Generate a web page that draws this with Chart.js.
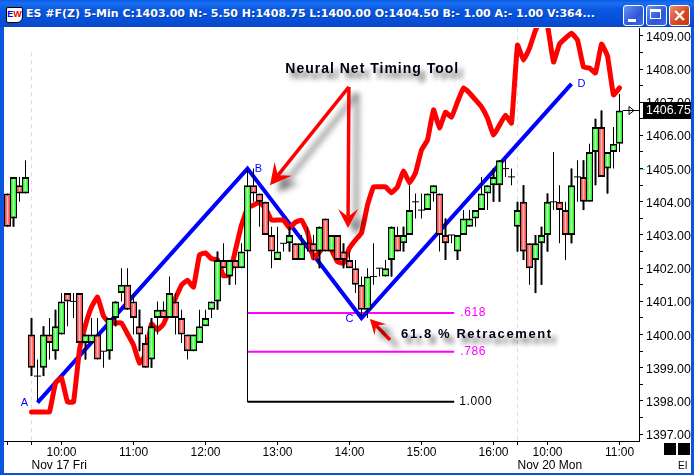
<!DOCTYPE html>
<html><head><meta charset="utf-8">
<script src="https://cdn.jsdelivr.net/npm/chart.js@4"></script>
<style>
html,body{margin:0;padding:0;background:#fff;overflow:hidden}
#win{position:absolute;left:0;top:0;width:694px;height:475px;background:#0a55dd;overflow:hidden}
#bar{position:absolute;left:0;top:0;width:694px;height:27px;background:linear-gradient(#0a5ce8 0,#1a6ff0 12%,#0a58e0 35%,#0550d8 75%,#0a47c8 100%)}
#ttl{position:absolute;left:26px;top:7px;color:#fff;font:bold 11px "DejaVu Sans";white-space:pre;letter-spacing:0;text-shadow:1px 1px 0 #0a3aa0}
#ico{position:absolute;left:6px;top:7px;width:15px;height:14px;background:#fff;border:1px solid #000;border-radius:2px 2px 6px 2px;font:bold 9px "Liberation Sans";line-height:13px;white-space:pre;overflow:hidden;text-align:center}
#ico b{color:#00e}#ico i{color:#e00;font-style:normal}
.btn{position:absolute;top:5px;width:19px;height:19px;border:1px solid #fff;border-radius:3px;background:linear-gradient(135deg,#6f93ee,#2b58d8 60%,#3b6ae4)}
#b3{background:linear-gradient(135deg,#ee8f70,#d2451f 60%,#c33a15)}
#b1 div{position:absolute;left:4px;bottom:3px;width:8px;height:3px;background:#fff}
#b2 div{position:absolute;left:3px;top:3px;width:11px;height:10px;border:1px solid #fff;border-top:3px solid #fff;box-sizing:border-box}
#b3 span{position:absolute;left:0;top:-1px;width:19px;text-align:center;color:#fff;font:bold 17px "DejaVu Sans";line-height:20px}
#wrap{position:absolute;left:4px;top:27px;width:687px;height:446px;background:#fff}
canvas{display:block}
</style></head>
<body>
<div id="win">
<div id="bar">
<div id="ico"><b>E</b><i>W</i></div>
<div id="ttl">ES #F(Z) 5-Min C:1403.00 N:- 5.50 H:1408.75 L:1400.00 O:1404.50 B:- 1.00 A:- 1.00 V:364...</div>
<div class="btn" id="b1" style="left:623px"><div></div></div>
<div class="btn" id="b2" style="left:646px"><div></div></div>
<div class="btn" id="b3" style="left:669px"><span>×</span></div>
</div>
<div id="wrap"><canvas id="c" width="687" height="446"></canvas></div>
</div>
<script>
const opens=[1404.25,1403.5,1404.5,1404.25,1400,1398.75,1399,1400,1399.5,1400,1401.25,1401,1401.25,1399.75,1399.75,1400,1399.5,1399.5,1400.5,1401.25,1401.5,1401,1400.25,1399.75,1399.25,1400.5,1400.75,1400.5,1401,1400.5,1400,1399.5,1399.75,1400.25,1400.75,1401,1402.25,1401.75,1402.25,1402,1402.5,1404.5,1404.25,1404,1403,1402.25,1402.75,1402.75,1402.75,1402.25,1402.75,1402.75,1402.5,1403.5,1402.5,1403,1402.5,1402.25,1402,1401.5,1400.75,1401.75,1402,1401.75,1402.25,1403,1402.75,1403,1404,1403.75,1403.75,1404.25,1404.25,1403,1403,1402.5,1403,1403.25,1403.5,1403.75,1404.25,1404.5,1404.5,1405,1404.75,1403.25,1404,1402.75,1402.25,1402.75,1403,1404,1404,1403.75,1403,1404.75,1404.75,1404,1405.5,1406.25,1405,1405.5,1405.75];
const highs=[1404.25,1404.75,1404.75,1405.25,1400.5,1399.25,1400.25,1400.5,1400.75,1401.25,1401.25,1401.25,1401.25,1400,1400.5,1400.5,1399.5,1400.5,1401,1402,1402,1401.25,1400.75,1400,1400.5,1401,1401,1401.75,1401.25,1400.75,1400,1400,1400.75,1400.75,1401,1402.5,1402.75,1402.25,1402.25,1402.75,1405,1405,1404.25,1404,1403.25,1403.25,1402.75,1403.25,1402.75,1403,1403.25,1403,1403.25,1403.5,1403,1403,1402.75,1402.5,1402.25,1401.75,1402,1402.75,1402,1402.25,1403.25,1403.25,1403.25,1404.5,1404.25,1404.25,1404.25,1404.5,1404.25,1403.5,1403,1403,1403.75,1403.75,1403.75,1404.75,1404.5,1405,1405.25,1405.25,1405,1404,1404.5,1402.75,1403,1403.25,1404.25,1405.5,1404.5,1404,1405,1405.25,1405.25,1405.75,1406.5,1406.75,1405.5,1406.25,1407.25];
const lows=[1403.25,1403.25,1404,1404.25,1398.75,1398,1398.75,1399.25,1399.25,1400,1400.25,1400.5,1399.75,1399.25,1399.75,1399.25,1399,1399.25,1400.25,1401,1400.75,1400,1399.5,1399,1399,1400,1400.5,1400.5,1400,1399.75,1399.25,1399.5,1399.75,1400.25,1400.5,1400.75,1402,1401.5,1401.5,1402,1402.25,1404,1403.25,1403,1402,1402.25,1402.5,1402.5,1402.25,1402.25,1402.5,1402.25,1402,1402.5,1402.5,1402.25,1402,1402,1401.25,1400.5,1400.5,1401.5,1401.75,1401.75,1401.75,1402.5,1402.5,1403,1403.5,1403.5,1403.75,1404,1402.5,1402.25,1402.75,1402.25,1403,1403.25,1403.25,1403.75,1403.75,1404,1404,1404.75,1404.5,1402.5,1402.25,1401.5,1401.25,1401.5,1402.5,1403.75,1402.75,1402.25,1402.75,1404,1403.75,1404,1404.5,1404.75,1404.25,1405,1405.5];
const closes=[1403.25,1404.75,1404.25,1404.75,1399,1398.75,1400,1399.75,1400.25,1401,1401,1401,1399.75,1400,1400,1399.25,1399.5,1400.5,1401,1401.5,1400.75,1400.5,1400,1399,1400.25,1400.75,1400.5,1401.25,1400.5,1400,1399.5,1400,1400.25,1400.5,1401,1402.25,1402,1402.25,1402,1402.5,1404.5,1404.25,1404,1403,1402.5,1402.5,1402.75,1403,1402.25,1402.75,1402.75,1402.5,1403.25,1402.5,1403,1402.25,1402.25,1402,1401.5,1400.75,1401.75,1401.75,1402,1402,1403.25,1402.5,1403,1403.75,1404,1403.75,1404.25,1404.5,1403,1402.75,1403,1403,1403.5,1403.5,1403.75,1404.25,1404.5,1404.75,1405.25,1405,1404.75,1403.75,1402.5,1402,1402.75,1403,1404,1404,1403.75,1403,1404.5,1404.75,1404,1405.5,1406.25,1404.75,1405.5,1405.75,1406.75];
const thickWickBars=[1,4,6,8,13,17,18,22,24,35,37,47,52,56,64,66,73,75,81,82,85,86,88,89,90,94,96,98,99,100];
const timingToolStart=4;
const timingTool=[1397.67,1397.67,1397.67,1397.67,1398.54,1398.69,1397.97,1397.97,1399.54,1400.29,1400.83,1401.13,1400.56,1400.35,1400.35,1400.35,1400.02,1399.69,1399.14,1399.39,1400.32,1400.14,1400.32,1400.74,1401.10,1401.49,1401.64,1401.43,1402.40,1402.46,1402.28,1402.25,1401.77,1401.80,1402.55,1403.30,1403.81,1403.90,1403.99,1403.81,1403.45,1403.45,1403.45,1403.21,1403.39,1403.45,1403.09,1402.31,1402.49,1402.70,1402.55,1402.19,1402.16,1402.61,1402.85,1403.06,1403.90,1404.45,1404.45,1404.45,1404.27,1404.45,1404.93,1404.57,1404.87,1405.56,1405.86,1406.77,1406.22,1406.70,1406.55,1407.01,1407.43,1407.28,1407.07,1406.86,1406.52,1406.01,1406.31,1406.61,1406.37,1408.72,1408.27,1408.63,1409.17,1409.48,1409.30,1408.21,1408.75,1408.93,1409.08,1408.87,1408.06,1408.03,1407.88,1408.75,1408.39,1407.22,1407.43];
const zigzagBars=[5,40,59,94];
const zigzagPrices=[1397.95,1405,1400.5,1407.55];
const zigzagNames=["A","B","C","D"];
const fibStartBar=40, fibEndBar=74.45;
const fibLevels=[1400.65,1399.48,1397.98];
const fibNames=[".618",".786","1.000"];
const yTicks=[1397,1397.5,1398,1398.5,1399,1399.5,1400,1400.5,1401,1401.5,1402,1402.5,1403,1403.5,1404,1404.5,1405,1405.5,1406,1406.5,1407,1407.5,1408,1408.5,1409];
const xTickBars=[0,4,9,21,33,45,57,69,81,85,90,102];
const xTickNames=["","","10:00","11:00","12:00","13:00","14:00","15:00","16:00","","10:00","11:00"];
const dayBars=[4,85];
const dayNames=["Nov 17 Fri","Nov 20 Mon"];
const lastPrice=1406.75;
const cyanAxisPrice=1405;
const sessionBreaks=[[4,1408.5],[85,1409.23]];
const yMin=1396.795,yMax=1409.235,xMin=-7/12,xMax=-7/12+635/6;

const barsIdx=opens.map((_,i)=>i);
const bodies=barsIdx.filter(i=>opens[i]!==closes[i]).map(i=>({x:i,y:[opens[i],closes[i]]}));
const dojis=barsIdx.filter(i=>opens[i]===closes[i]).map(i=>({x:i,y:opens[i]}));
const wicks=barsIdx.map(i=>({x:i,y:[lows[i],highs[i]]}));
const thickWicks=thickWickBars.map(i=>({x:i,y:[lows[i],highs[i]]}));
const noPad=s=>{s.paddingLeft=s.paddingRight=s.paddingTop=s.paddingBottom=0;};

const lineBase={type:'line',pointRadius:0,fill:false,tension:0,borderJoinStyle:'round',borderCapStyle:'round'};
const datasets=[];
sessionBreaks.forEach(([b,p])=>datasets.push({...lineBase,label:'session',order:20,data:[{x:b,y:p},{x:b,y:yMin}],borderColor:'#dcdcdc',borderWidth:1,borderDash:[4,4],borderCapStyle:'butt'}));
datasets.push({...lineBase,label:'fib stem',order:14,data:[{x:fibStartBar,y:zigzagPrices[1]},{x:fibStartBar,y:fibLevels[2]}],borderColor:'#000',borderWidth:1,borderCapStyle:'butt'});
fibLevels.forEach((p,k)=>datasets.push({...lineBase,label:'fib '+fibNames[k],order:14,data:[{x:fibStartBar,y:p},{x:fibEndBar,y:p}],borderColor:k<2?'#ff00ff':'#000',borderWidth:2,borderCapStyle:'butt'}));
datasets.push({...lineBase,label:'zigzag',order:12,data:zigzagBars.map((b,i)=>({x:b,y:zigzagPrices[i]})),borderColor:'#0000ff',borderWidth:4,borderJoinStyle:'miter',borderCapStyle:'butt'});
datasets.push({...lineBase,label:'Neural Net',order:10,tension:0.1,data:timingTool.map((p,i)=>({x:i+timingToolStart,y:p})),borderColor:'#ff0000',borderWidth:5});
datasets.push({label:'wick',type:'bar',order:8,data:wicks,backgroundColor:'#000',barThickness:1,grouped:false,inflateAmount:0,borderWidth:0});
datasets.push({label:'wick2',type:'bar',order:7,data:thickWicks,backgroundColor:'#000',barThickness:2,grouped:false,inflateAmount:0,borderWidth:0});
datasets.push({label:'body',type:'bar',order:5,data:bodies,barThickness:7,grouped:false,inflateAmount:0,borderColor:'#000',borderSkipped:false,borderWidth:{left:1,right:1,top:2,bottom:2},
 backgroundColor(c){
  if(c.type!=='data'||!c.raw)return '#fff';
  const up=c.raw.y[1]>c.raw.y[0];
  const px=c.chart.scales.x.getPixelForValue(c.raw.x);
  if(!Number.isFinite(px))return up?'#00e800':'#f03030';
  const g=c.chart.ctx.createLinearGradient(px-3,0,px+3,0);
  if(up){g.addColorStop(0,'#00e800');g.addColorStop(.3,'#50ff50');g.addColorStop(.5,'#b8ffb8');g.addColorStop(.7,'#50ff50');g.addColorStop(1,'#00e800');}
  else{g.addColorStop(0,'#f03030');g.addColorStop(.3,'#ff6a6a');g.addColorStop(.5,'#ffb8b8');g.addColorStop(.7,'#ff6a6a');g.addColorStop(1,'#f03030');}
  return g;
 }});
datasets.push({label:'doji',type:'scatter',order:4,data:dojis,showLine:false,pointStyle:'line',pointRadius:3.5,borderColor:'#000',borderWidth:1,pointBorderWidth:1,pointBorderColor:'#000'});

const arrows=[
 {from:[56.9,1407.46],to:[43.75,1404.5],len:21,half:11,w:3.5},
 {from:[56.9,1407.46],to:[56.75,1403.21],len:19,half:10,w:3.5},
 {from:[63.75,1399.84],to:[60.4,1400.47],len:15,half:8,w:3.5}
];
const notes=[
 {text:"Neural Net Timing Tool",bar:46.3,price:1408.0,font:'bold 14px "Liberation Sans"',sp:'1px'},
 {text:"61.8 % Retracement",bar:65.6,price:1400,font:'bold 13px "Liberation Sans"',sp:'1.6px'}
];

const drawings={id:'drawings',afterDatasetsDraw(chart){
 const {ctx,scales:{x,y},chartArea:a}=chart;
 const X=v=>x.getPixelForValue(v),Y=v=>y.getPixelForValue(v);
 ctx.save();
 arrows.forEach(ar=>{
  const fx=X(ar.from[0]),fy=Y(ar.from[1]),tx=X(ar.to[0]),ty=Y(ar.to[1]);
  const an=Math.atan2(ty-fy,tx-fx),ux=Math.cos(an),uy=Math.sin(an),nx=-uy,ny=ux;
  ctx.save();
  ctx.shadowColor='rgba(0,0,0,.55)';ctx.shadowOffsetX=8;ctx.shadowOffsetY=7;ctx.shadowBlur=6;
  ctx.fillStyle='#ff0000';ctx.strokeStyle='#ff0000';ctx.lineWidth=ar.w;
  ctx.beginPath();ctx.moveTo(fx,fy);ctx.lineTo(tx-ux*ar.len*.6,ty-uy*ar.len*.6);ctx.stroke();
  ctx.beginPath();ctx.moveTo(tx,ty);
  ctx.lineTo(tx-ux*ar.len+nx*ar.half,ty-uy*ar.len+ny*ar.half);
  ctx.lineTo(tx-ux*ar.len*.6,ty-uy*ar.len*.6);
  ctx.lineTo(tx-ux*ar.len-nx*ar.half,ty-uy*ar.len-ny*ar.half);
  ctx.closePath();ctx.fill();
  ctx.restore();
 });
 notes.forEach(n=>{
  ctx.save();
  ctx.font=n.font;ctx.letterSpacing=n.sp;ctx.textBaseline='middle';ctx.textAlign='left';
  ctx.shadowColor='rgba(0,0,0,.6)';ctx.shadowOffsetX=5;ctx.shadowOffsetY=6;ctx.shadowBlur=5;
  ctx.fillStyle='#000015';
  ctx.fillText(n.text,X(n.bar),Y(n.price));
  ctx.restore();
 });
 ctx.font='11px "Liberation Sans"';ctx.textBaseline='middle';ctx.textAlign='center';ctx.fillStyle='#0000ff';
 const off=[[-13,0],[11,0],[-12,1],[10,0]];
 zigzagNames.forEach((t,i)=>ctx.fillText(t,X(zigzagBars[i])+off[i][0],Y(zigzagPrices[i])+off[i][1]));
 ctx.font='12px "Liberation Sans"';ctx.letterSpacing='0.6px';ctx.textAlign='left';
 fibNames.forEach((t,k)=>{ctx.fillStyle=k<2?'#ff00ff':'#000';ctx.fillText(t,X(fibEndBar)+(k<2?6:5),Y(fibLevels[k]));});
 ctx.letterSpacing='0px';
 const ly=Math.round(Y(lastPrice))-.5,r=a.right;
 ctx.strokeStyle='#000';ctx.lineWidth=1;
 ctx.beginPath();ctx.moveTo(r-16,ly);ctx.lineTo(r,ly);ctx.moveTo(r-10,ly-4);ctx.lineTo(r-5,ly);ctx.lineTo(r-10,ly+4);ctx.closePath();ctx.stroke();
 ctx.fillStyle='#000';ctx.fillRect(r+4,ly-8.5,chart.width-r-4,17);
 ctx.fillStyle='#fff';ctx.font='12.4px "Liberation Sans"';ctx.textAlign='left';
 ctx.fillText(lastPrice.toFixed(2),r+7,ly+.5);
 ctx.fillStyle='#33dddd';ctx.fillRect(r+1,Math.round(Y(cyanAxisPrice)),5,1);
 ctx.fillStyle='#000';
 ctx.fillRect(r+25,a.bottom+2,12,12);ctx.fillRect(r+39,a.bottom+2,12,12);
 ctx.font='10px "Liberation Sans"';ctx.fillText('EI',r+39,a.bottom+25);
 ctx.restore();
}};

new Chart(document.getElementById('c'),{
 type:'bar',
 data:{datasets},
 plugins:[drawings],
 options:{
  responsive:false,animation:false,
  layout:{autoPadding:false,padding:{top:1,left:0,right:0,bottom:0}},
  plugins:{legend:{display:false},tooltip:{enabled:false},title:{display:false}},
  scales:{
   x:{type:'linear',position:'bottom',weight:0,min:xMin,max:xMax,offset:false,
    grid:{display:true,drawOnChartArea:false,color:'#000',tickLength:4,offset:false},
    border:{color:'#000',width:1},
    afterBuildTicks(s){s.ticks=xTickBars.map(v=>({value:v}));},
    afterFit(s){s.height=18;noPad(s);},
    ticks:{autoSkip:false,maxRotation:0,minRotation:0,padding:0,color:'#000',font:{family:'"Liberation Sans"',size:12},
     callback(v){const k=xTickBars.indexOf(v);return k<0?'':xTickNames[k];}}},
   x2:{type:'linear',axis:'x',position:'bottom',weight:1,min:xMin,max:xMax,offset:false,
    grid:{display:false,drawTicks:false,offset:false},border:{display:false},
    afterBuildTicks(s){s.ticks=dayBars.map(v=>({value:v}));},
    afterFit(s){s.height=14;noPad(s);},
    ticks:{autoSkip:false,maxRotation:0,minRotation:0,align:'start',padding:-1,color:'#000',font:{family:'"Liberation Sans"',size:12},
     callback(v){const k=dayBars.indexOf(v);return k<0?'':dayNames[k];}}},
   y:{type:'linear',position:'right',min:yMin,max:yMax,
    grid:{display:true,drawOnChartArea:false,color:'#000',tickLength:4},
    border:{color:'#000',width:1},
    afterBuildTicks(s){s.ticks=yTicks.map(v=>({value:v}));},
    afterFit(s){s.width=52;noPad(s);},
    ticks:{autoSkip:false,padding:3,labelOffset:1.5,color:'#000',font:{family:'"Liberation Sans"',size:12.4},
     callback(v){return Number.isInteger(v)?v.toFixed(2):'';}}}
  }
 }
});
</script>
</body></html>
